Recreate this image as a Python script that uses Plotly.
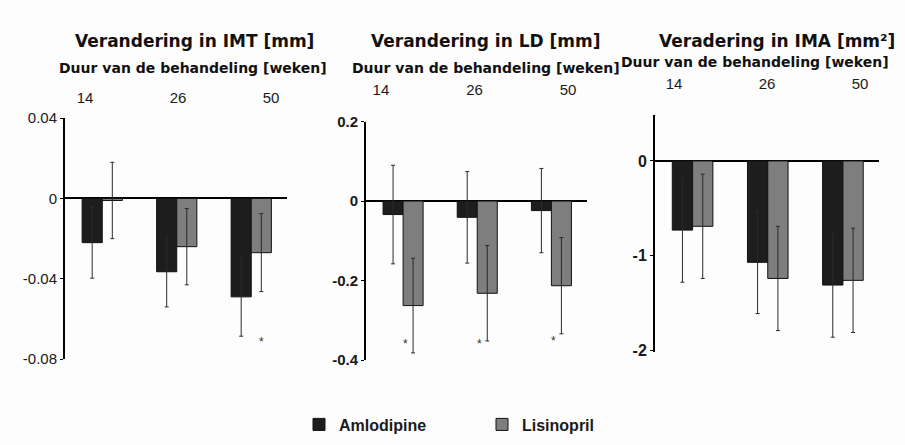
import plotly.graph_objects as go

# Treatment duration groups and series
weeks = ["14", "26", "50"]
series = ["Amlodipine", "Lisinopril"]

# Change in IMT [mm]: mean and SD
imt_amlo = [-0.022, -0.0365, -0.049]
imt_amlo_sd = [0.0177, 0.0175, 0.0196]
imt_lisi = [-0.001, -0.024, -0.027]
imt_lisi_sd = [0.019, 0.019, 0.0194]

# Change in LD [mm]
ld_amlo = [-0.034, -0.041, -0.024]
ld_amlo_sd = [0.124, 0.115, 0.106]
ld_lisi = [-0.263, -0.232, -0.213]
ld_lisi_sd = [0.119, 0.12, 0.121]

# Change in IMA [mm²]
ima_amlo = [-0.73, -1.07, -1.31]
ima_amlo_sd = [0.55, 0.54, 0.55]
ima_lisi = [-0.69, -1.24, -1.26]
ima_lisi_sd = [0.55, 0.55, 0.55]

# Significance marks: (group index, y level)
imt_sig = [(2, -0.0686)]
ld_sig = [(0, -0.345), (1, -0.345), (2, -0.337)]

titles = ["Verandering in IMT [mm]", "Verandering in LD [mm]", "Veradering in IMA [mm²]"]
subtitle = "Duur van de behandeling [weken]"

W, H = 905, 445
def fx(p):
    return p / W
def fy(p):
    return 1 - p / H

AMLO = "#1d1d1d"
LISI = "#7e7e7e"
INK = "#1a1a1a"

panels = [
    dict(vals=(imt_amlo, imt_amlo_sd, imt_lisi, imt_lisi_sd), xd=(65, 287), yd=(113.5, 364),
         yr=[-0.08, 0.04], tv=[0.04, 0, -0.04, -0.08], tt=["0.04", "0", "-0.04", "-0.08"],
         bold=False, top=(-0.215, 2.172), topy=101),
    dict(vals=(ld_amlo, ld_amlo_sd, ld_lisi, ld_lisi_sd), xd=(366, 587), yd=(117, 365),
         yr=[-0.4, 0.2], tv=[0.2, 0, -0.2, -0.4], tt=["0.2", "0", "-0.2", "-0.4"],
         bold=True, top=(-0.16, 2.203), topy=93),
    dict(vals=(ima_amlo, ima_amlo_sd, ima_lisi, ima_lisi_sd), xd=(655, 879), yd=(110, 357),
         yr=[-2.02, 0.487], tv=[0, -1, -2], tt=["0", "-1", "-2"],
         bold=True, top=(-0.204, 2.204), topy=86),
]

fig = go.Figure()
xpos = list(range(len(weeks)))

for i, p in enumerate(panels):
    n = i + 1
    xa = "x" if n == 1 else f"x{n}"
    ya = "y" if n == 1 else f"y{n}"
    am, am_sd, li, li_sd = p["vals"]
    for name, v, sd, col in [(series[0], am, am_sd, AMLO), (series[1], li, li_sd, LISI)]:
        fig.add_trace(go.Bar(
            x=xpos, y=v, name=name, xaxis=xa, yaxis=ya,
            marker=dict(color=col, line=dict(color="#111111", width=1)),
            error_y=dict(type="data", array=sd, visible=True, color="#2a2a2a",
                         thickness=1, width=2),
            showlegend=(n == 1), legendgroup=name, offsetgroup=name,
        ))
    # invisible anchor trace for the top week-label axis
    fig.add_trace(go.Scatter(x=xpos, y=[0] * len(xpos), xaxis=f"x{n + 3}", yaxis=ya,
                             mode="markers", marker=dict(opacity=0), showlegend=False,
                             hoverinfo="skip"))

    tickfont = dict(family="Liberation Sans", size=16 if n == 3 else 15,
                    color=INK, weight="bold" if p["bold"] else "normal")
    fig.layout[f"xaxis{n}" if n > 1 else "xaxis"] = dict(
        domain=[fx(p["xd"][0]), fx(p["xd"][1])], range=[-0.5, 2.48],
        anchor=ya, showticklabels=False, showgrid=False, zeroline=False,
        showline=False, fixedrange=True)
    fig.layout[f"yaxis{n}" if n > 1 else "yaxis"] = dict(
        domain=[fy(p["yd"][1]), fy(p["yd"][0])], range=p["yr"], anchor=xa,
        tickvals=p["tv"], ticktext=p["tt"], tickfont=tickfont,
        showgrid=False, zeroline=True, zerolinecolor="#000000", zerolinewidth=2,
        showline=True, linecolor="#000000", linewidth=2,
        ticks="outside", ticklen=3, tickwidth=1, tickcolor="#000000", fixedrange=True)
    fig.layout[f"xaxis{n + 3}"] = dict(
        overlaying=xa, side="top", anchor="free", position=fy(p["topy"]),
        range=list(p["top"]), tickvals=xpos, ticktext=weeks,
        tickfont=dict(family="Liberation Sans", size=15, color=INK),
        showgrid=False, zeroline=False, showline=False, ticks="", fixedrange=True)

# Titles and subtitles
title_pos = [(194, 33), (486, 33), (777, 33)]
sub_pos = [(193, 61, "center", 14), (486, 61, "center", 14), (619, 55, "left", 14)]
for (tx, ty), t in zip(title_pos, titles):
    fig.add_annotation(text=f"<b>{t}</b>", x=fx(tx), y=fy(ty), xref="paper", yref="paper",
                       xanchor="center", yanchor="middle", showarrow=False,
                       font=dict(family="DejaVu Sans", size=17, color="#111111"))
for (sx, sy, anc, fs) in sub_pos:
    fig.add_annotation(text=f"<b>{subtitle}</b>", x=fx(sx), y=fy(sy), xref="paper", yref="paper",
                       xanchor=anc, yanchor="middle", showarrow=False,
                       font=dict(family="DejaVu Sans", size=fs, color="#111111"))

# Significance asterisks
for gi, yv in imt_sig:
    fig.add_annotation(text="*", x=gi, y=yv, xref="x", yref="y", showarrow=False,
                       xshift=10, yshift=-6,
                       font=dict(family="Liberation Sans", size=12, color="#333333"))
for gi, yv in ld_sig:
    fig.add_annotation(text="*", x=gi, y=yv, xref="x2", yref="y2", showarrow=False,
                       xshift=2, yshift=-6,
                       font=dict(family="Liberation Sans", size=12, color="#333333"))

fig.update_layout(
    width=W, height=H, margin=dict(l=0, r=0, t=0, b=0),
    paper_bgcolor="#fdfdfd", plot_bgcolor="rgba(0,0,0,0)",
    barmode="group", bargap=0.46, bargroupgap=0,
    legend=dict(orientation="h", x=fx(299), y=fy(432), xanchor="left", yanchor="middle",
                entrywidth=138, font=dict(family="Liberation Sans", size=16, color=INK,
                                          weight="bold"),
                bgcolor="rgba(0,0,0,0)"),
)

fig.write_html("out.html")
